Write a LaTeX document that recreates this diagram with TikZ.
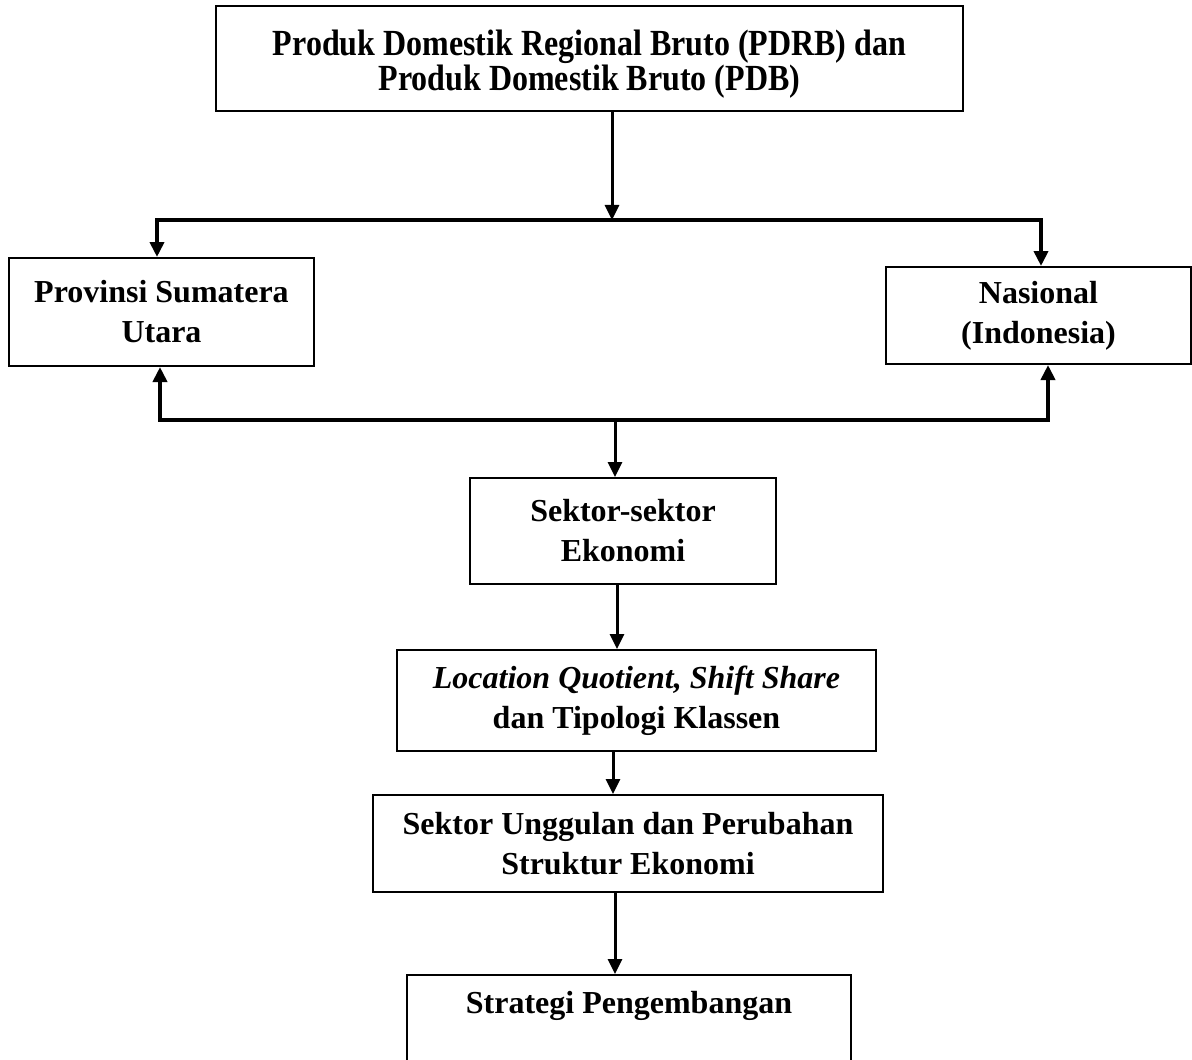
\documentclass[tikz,border=0pt]{standalone}
\usepackage{fontspec}
\setmainfont{Liberation Serif}
\usetikzlibrary{arrows.meta}

\begin{document}
\begin{tikzpicture}[x=0.5pt,y=-0.5pt,>={Triangle[length=7.5pt,width=7pt]},
  box/.style={draw,line width=1pt,align=center,inner sep=0pt,font=\fontsize{16}{20}\selectfont\bfseries},
  arr/.style={->,line width=1.5pt},
  bus/.style={<->,line width=2pt}]
  \useasboundingbox (0,0) rectangle (1192,1059);

  % Boxes
  \node[box,minimum width=373.5pt,minimum height=52.5pt,font=\fontsize{16}{17.5}\selectfont\bfseries] (pdrb) at (589.5,58.5)
    {\rule{0pt}{18pt}\scalebox{1}[1.15]{Produk Domestik Regional Bruto (PDRB) dan}\\
     \scalebox{1}[1.15]{Produk Domestik Bruto (PDB)}};
  \node[box,minimum width=152.5pt,minimum height=54pt] (provinsi) at (161.5,312)
    {Provinsi Sumatera\\Utara};
  \node[box,minimum width=152.5pt,minimum height=48.5pt] (nasional) at (1038.5,315.5)
    {Nasional\\(Indonesia)};
  \node[box,minimum width=153pt,minimum height=53pt] (sektor) at (623,531)
    {Sektor-sektor\\Ekonomi};
  \node[box,minimum width=239.5pt,minimum height=50.5pt] (lq) at (636.5,700.5)
    {\itshape Location Quotient, Shift Share\\dan Tipologi Klassen};
  \node[box,minimum width=255pt,minimum height=48.5pt] (unggulan) at (628,843.5)
    {Sektor Unggulan dan Perubahan\\Struktur Ekonomi};
  \node[box,minimum width=222pt,minimum height=53pt] (strategi) at (629,1028)
    {Strategi Pengembangan\\\strut};

  % Bus lines
  \coordinate (tl) at (157,220);
  \coordinate (tm) at (612,220);
  \coordinate (tr) at (1041,220);
  \coordinate (bl) at (160,420);
  \coordinate (bm) at (615,420);
  \coordinate (br) at (1048,420);

  % Connectors
  \draw[arr] (pdrb.south -| tm) -- (tm);
  \draw[bus] (provinsi.north -| tl) -- (tl) -- (tr) -- (nasional.north -| tr);
  \draw[bus] (provinsi.south -| bl) -- (bl) -- (br) -- (nasional.south -| br);
  \draw[arr] (bm) -- (sektor.north -| bm);
  \draw[arr] ([xshift=-3pt]sektor.south) -- ([xshift=-3pt]sektor.south |- lq.north);
  \draw[arr] ([xshift=-11.75pt]lq.south) -- ([xshift=-11.75pt]lq.south |- unggulan.north);
  \draw[arr] ([xshift=-6.5pt]unggulan.south) -- ([xshift=-6.5pt]unggulan.south |- strategi.north);
\end{tikzpicture}
\end{document}
